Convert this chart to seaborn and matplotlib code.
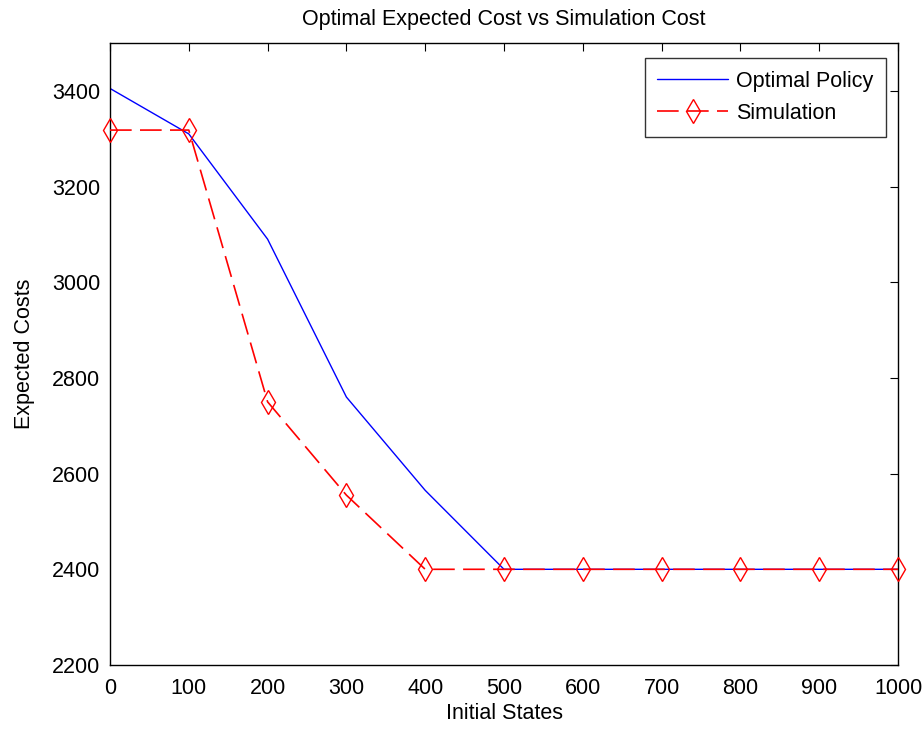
import matplotlib
matplotlib.use("Agg")
import matplotlib.pyplot as plt
import seaborn as sns
import pandas as pd

# Initial states and the two cost curves
initial_states = [0, 100, 200, 300, 400, 500, 600, 700, 800, 900, 1000]
optimal_policy = [3405, 3310, 3090, 2760, 2565, 2400, 2400, 2400, 2400, 2400, 2400]
simulation = [3318, 3318, 2750, 2555, 2400, 2400, 2400, 2400, 2400, 2400, 2400]

x_ticks = [0, 100, 200, 300, 400, 500, 600, 700, 800, 900, 1000]
y_ticks = [2200, 2400, 2600, 2800, 3000, 3200, 3400]

sns.set_style("white")
plt.rcParams["font.family"] = ["Liberation Sans", "DejaVu Sans"]
plt.rcParams["text.color"] = "black"
plt.rcParams["axes.labelcolor"] = "black"
plt.rcParams["xtick.direction"] = "in"
plt.rcParams["ytick.direction"] = "in"

df = pd.DataFrame({
    "state": initial_states,
    "optimal": optimal_policy,
    "sim": simulation,
})

fig = plt.figure(figsize=(9.23, 7.3), dpi=100)
ax = fig.add_axes([110 / 923, 1 - 665 / 730, 788 / 923, 622 / 730])

sns.lineplot(data=df, x="state", y="optimal", ax=ax, color="#0000ff",
             linewidth=1.0, label="Optimal Policy")
sns.lineplot(data=df, x="state", y="sim", ax=ax, color="#ff0000",
             linewidth=1.2, marker="d", markersize=12, markerfacecolor="none",
             markeredgecolor="#ff0000", markeredgewidth=1.0,
             dashes=(13, 5), label="Simulation", clip_on=False, zorder=3)

ax.set_xlim(0, 1000)
ax.set_ylim(2200, 3500)
ax.set_xticks(x_ticks)
ax.set_yticks(y_ticks)

fs = 15.5
ax.tick_params(axis="both", which="both", direction="in", length=6, width=0.8,
               top=True, right=True, labelsize=fs, colors="black")
ax.tick_params(axis="x", pad=9)
ax.tick_params(axis="y", pad=7)
for s in ax.spines.values():
    s.set_visible(True)
    s.set_color("black")
    s.set_linewidth(1.0)

ax.set_xlabel("Initial States", fontsize=fs, labelpad=3, color="black")
ax.set_ylabel("Expected Costs", fontsize=fs, labelpad=12, color="black")
ax.set_title("Optimal Expected Cost vs Simulation Cost", fontsize=fs, pad=13,
             color="black")

leg = ax.legend(loc="upper right", bbox_to_anchor=(0.985, 0.976), fontsize=fs,
                frameon=True, fancybox=False, handlelength=3.3,
                borderpad=0.6, labelspacing=0.5, handletextpad=0.35,
                borderaxespad=0)
leg.get_frame().set_edgecolor("black")
leg.get_frame().set_linewidth(1.0)
for t in leg.get_texts():
    t.set_color("black")

fig.savefig("out.png", dpi=100)
